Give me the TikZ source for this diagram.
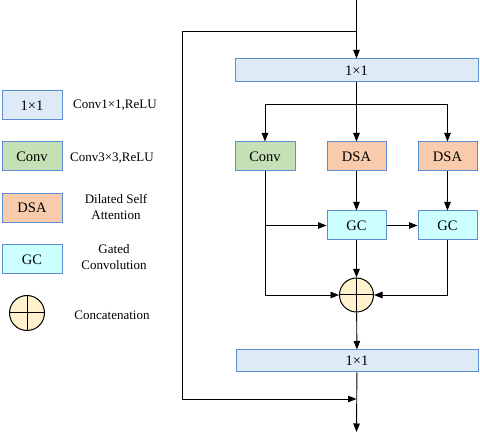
\documentclass[tikz,border=0pt]{standalone}
\usepackage{fontspec}
\setmainfont{Liberation Serif}
\usetikzlibrary{arrows.meta}
\definecolor{edgeblue}{RGB}{91,140,212}
\definecolor{fillone}{RGB}{222,235,247}
\definecolor{fillconv}{RGB}{197,224,180}
\definecolor{filldsa}{RGB}{248,203,173}
\definecolor{fillgc}{RGB}{204,255,255}
\definecolor{fillcat}{RGB}{255,242,204}

\begin{document}
\begin{tikzpicture}[x=1pt,y=-1pt,
  every node/.style={font=\fontsize{14.5}{17}\selectfont},
  blk/.style={draw=edgeblue,line width=1pt,inner sep=0pt,minimum height=29pt,minimum width=59pt},
  onebox/.style={blk,fill=fillone},
  convbox/.style={blk,fill=fillconv},
  dsabox/.style={blk,fill=filldsa},
  gcbox/.style={blk,fill=fillgc},
  catnode/.style={circle,draw,line width=1pt,fill=fillcat,minimum size=34pt,inner sep=0pt,
    path picture={\draw[line width=1pt] (path picture bounding box.north) -- (path picture bounding box.south)
      (path picture bounding box.west) -- (path picture bounding box.east);}},
  wire/.style={line width=0.9pt},
  arr/.style={wire,-{Triangle[length=8.5pt,width=6.5pt]}},
  legtext/.style={align=center,inner sep=0pt,font=\fontsize{13}{16}\selectfont}]
\path[use as bounding box] (0,0) rectangle (480,435);
% main block
\coordinate (in) at (356.5,0);
\coordinate (split) at (356.5,31);
\coordinate (skipa) at (182,31);
\node[onebox,minimum width=243pt,minimum height=23pt] (top11) at (356.5,70.5) {1×1};
\coordinate (fork) at (356.5,104);
\node[convbox,minimum width=60pt] (conv) at (265,156.5) {Conv};
\node[dsabox] (dsaA) at (356.5,156.5) {DSA};
\node[dsabox] (dsaB) at (447.5,156.5) {DSA};
\node[gcbox] (gcA) at (356.5,225.5) {GC};
\node[gcbox] (gcB) at (447.5,225.5) {GC};
\node[catnode] (cat) at (356.5,295) {};
\node[onebox,minimum width=242pt,minimum height=22pt] (bot11) at (357,361) {1×1};
\coordinate (join) at (356.5,399);
\coordinate (out) at (356.5,432);

\draw[wire] (in) -- (split);
\draw[arr] (split) -- (top11);
\draw[arr] (split) -- (skipa) |- (join);
\draw[wire] (top11) -- (fork);
\draw[arr] (fork) -| (conv);
\draw[arr] (fork) -- (dsaA);
\draw[arr] (fork) -| (dsaB);
\draw[arr] (dsaA) -- (gcA);
\draw[arr] (dsaB) -- (gcB);
\draw[arr] (conv.south |- gcA.west) -- (gcA);
\draw[arr] (gcA) -- (gcB);
\draw[arr] (conv.south) |- (cat.west);
\draw[arr] (gcA) -- (cat);
\draw[arr] (gcB.south) |- (cat.east);
\draw[arr] (cat) -- (bot11);
\draw[arr] (bot11) -- (out);

% legend
\node[onebox,minimum width=60pt] (leg11) at (32,105.5) {1×1};
\node[convbox,minimum width=60pt] (legconv) at (32,156.5) {Conv};
\node[dsabox,minimum width=60pt] (legdsa) at (32,208) {DSA};
\node[gcbox,minimum width=60pt] (leggc) at (32,259.5) {GC};
\node[catnode,minimum size=35pt] (legcat) at (27,313) {};
\node[legtext] (t11) at (115,105) {Conv1×1,ReLU};
\node[legtext] (tconv) at (112,158) {Conv3×3,ReLU};
\node[legtext] (tdsa) at (116,207) {Dilated Self\\Attention};
\node[legtext] (tgc) at (114,257) {Gated\\Convolution};
\node[legtext] (tcat) at (112,315) {Concatenation};
\end{tikzpicture}
\end{document}
